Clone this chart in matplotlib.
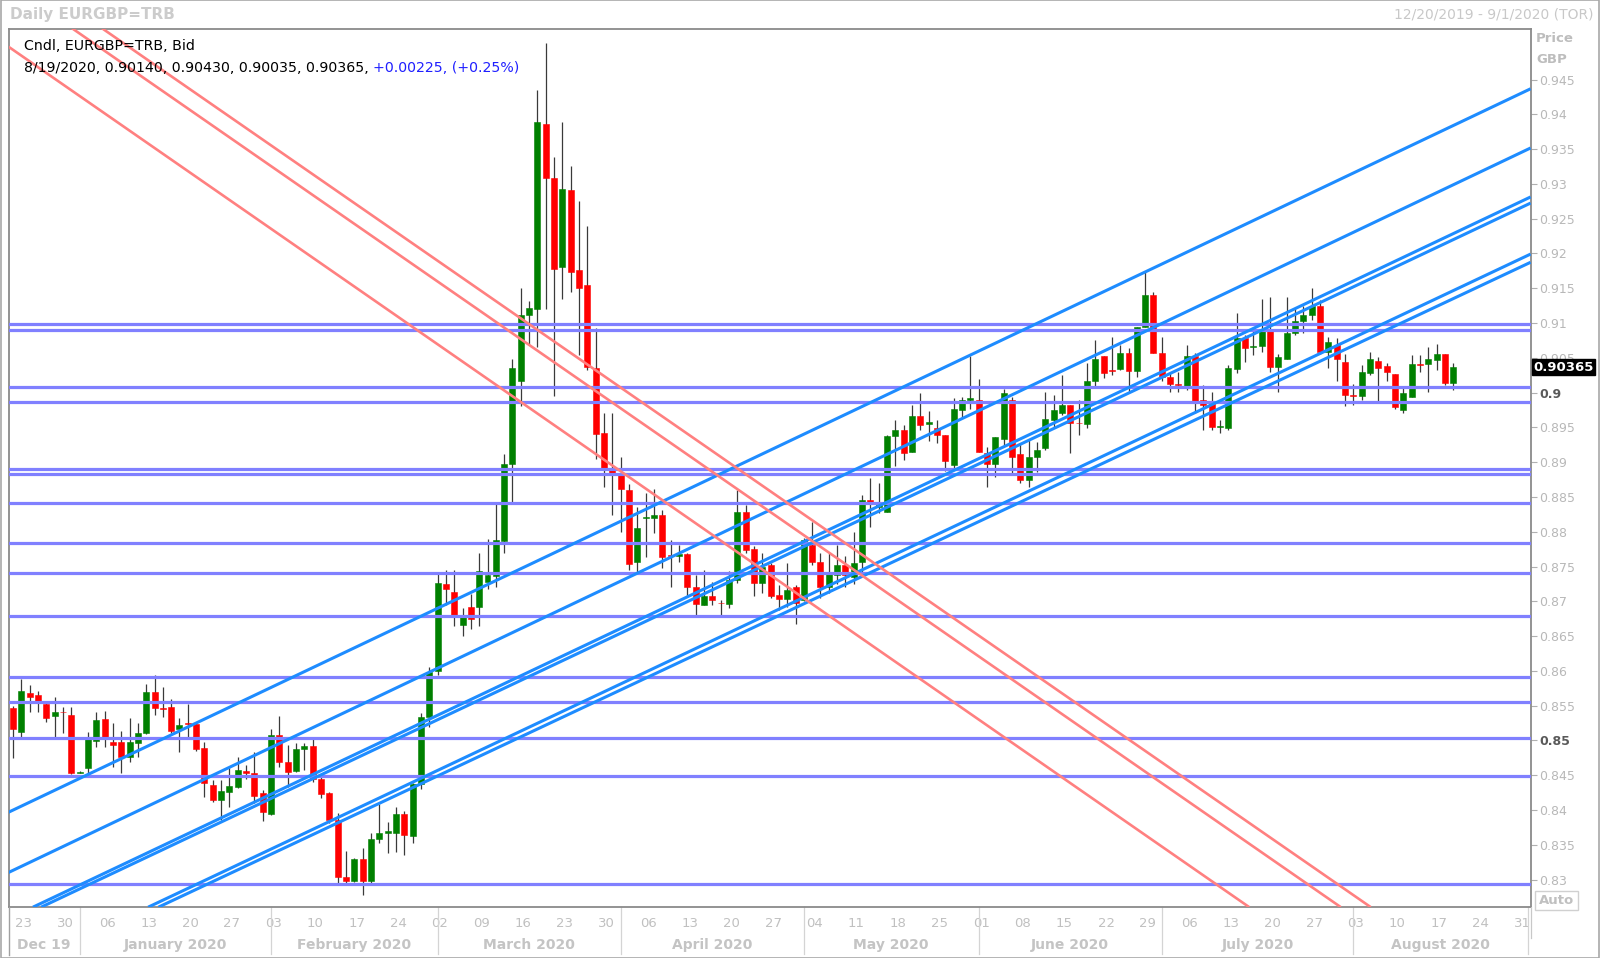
import matplotlib
matplotlib.use("Agg")
import matplotlib.pyplot as plt
import matplotlib.transforms as mtransforms
from matplotlib.patches import Rectangle
import numpy as np
import pandas as pd

# ---------------- data ----------------
dates = pd.bdate_range("2019-12-20", "2020-08-19")
axis_dates = pd.bdate_range("2019-12-20", "2020-09-01")

opens = [0.85462, 0.85117, 0.85678, 0.85654, 0.85524, 0.85352, 0.85410, 0.85366, 0.84535, 0.84600,
         0.84997, 0.85304, 0.84983, 0.84974, 0.84767, 0.84969, 0.85103, 0.85692, 0.85467, 0.85476,
         0.85160, 0.85246, 0.85237, 0.84887, 0.84360, 0.84145, 0.84265, 0.84327, 0.84562, 0.84538,
         0.84240, 0.83944, 0.85079, 0.84696, 0.84562, 0.84873, 0.84921, 0.84442, 0.84240, 0.83857,
         0.83043, 0.82986, 0.83292, 0.82986, 0.83589, 0.83675, 0.83675, 0.83944, 0.83627, 0.84375,
         0.85333, 0.86000, 0.87250, 0.87140, 0.86660, 0.86920, 0.86920, 0.87280, 0.87360, 0.87870,
         0.88970, 0.90170, 0.91120, 0.91200, 0.93860, 0.93080, 0.91810, 0.92910, 0.91760, 0.91540,
         0.90350, 0.89420, 0.88900, 0.88840, 0.88600, 0.87570, 0.88200, 0.88200, 0.88240, 0.87660,
         0.87650, 0.87680, 0.87200, 0.86950, 0.87080, 0.86980, 0.86960, 0.87310, 0.88290, 0.87750,
         0.87270, 0.87520, 0.87090, 0.87030, 0.87210, 0.87020, 0.87810, 0.87570, 0.87200, 0.87380,
         0.87520, 0.87350, 0.87570, 0.88460, 0.88360, 0.88290, 0.89370, 0.89460, 0.89150, 0.89660,
         0.89550, 0.89490, 0.89390, 0.88960, 0.89750, 0.89890, 0.89890, 0.89130, 0.88980, 0.89340,
         0.89900, 0.89120, 0.88740, 0.89080, 0.89200, 0.89610, 0.89700, 0.89820, 0.89570, 0.89550,
         0.90160, 0.90520, 0.90320, 0.90340, 0.90570, 0.90310, 0.90940, 0.91400, 0.90570, 0.90220,
         0.90130, 0.90080, 0.90530, 0.89900, 0.89850, 0.89510, 0.89490, 0.90340, 0.90780, 0.90650,
         0.90670, 0.90880, 0.90370, 0.90490, 0.90850, 0.91030, 0.91120, 0.91240, 0.90590, 0.90680,
         0.90440, 0.89970, 0.89950, 0.90280, 0.90460, 0.90380, 0.90270, 0.89750, 0.89940, 0.90410,
         0.90410, 0.90470, 0.90560, 0.90140]
highs = [0.85496, 0.85884, 0.85797, 0.85716, 0.85558, 0.85630, 0.85486, 0.85486, 0.84560, 0.85127,
         0.85414, 0.85424, 0.85246, 0.85141, 0.85318, 0.85246, 0.85812, 0.85941, 0.85764, 0.85596,
         0.85318, 0.85524, 0.85270, 0.84983, 0.84432, 0.84432, 0.84624, 0.84767, 0.84648, 0.84839,
         0.84288, 0.85160, 0.85352, 0.84935, 0.84959, 0.84959, 0.85017, 0.84504, 0.84265, 0.83953,
         0.83417, 0.83307, 0.83450, 0.83666, 0.84087, 0.83834, 0.84049, 0.83992, 0.84384, 0.85400,
         0.86050, 0.87400, 0.87450, 0.87450, 0.86900, 0.87100, 0.87700, 0.87900, 0.88400, 0.89120,
         0.90490, 0.91510, 0.91310, 0.94350, 0.95030, 0.93390, 0.93890, 0.93260, 0.92760, 0.92390,
         0.90930, 0.89700, 0.89700, 0.89080, 0.88680, 0.88360, 0.88552, 0.88620, 0.88310, 0.87880,
         0.87810, 0.87700, 0.87380, 0.87450, 0.87280, 0.87020, 0.87430, 0.88600, 0.88390, 0.87790,
         0.87690, 0.87550, 0.87230, 0.87550, 0.87240, 0.87910, 0.88140, 0.87700, 0.87700, 0.87810,
         0.87650, 0.88000, 0.88530, 0.88770, 0.88700, 0.89390, 0.89610, 0.89540, 0.89820, 0.90000,
         0.89730, 0.89610, 0.89390, 0.89920, 0.89940, 0.90520, 0.90190, 0.89220, 0.89360, 0.90050,
         0.89940, 0.89270, 0.89340, 0.89290, 0.90010, 0.89970, 0.90250, 0.89820, 0.89900, 0.90420,
         0.90760, 0.90520, 0.90800, 0.90680, 0.90640, 0.90940, 0.91750, 0.91440, 0.90800, 0.90300,
         0.90300, 0.90680, 0.90570, 0.90110, 0.90010, 0.89600, 0.90400, 0.91140, 0.90830, 0.90950,
         0.91350, 0.91380, 0.90560, 0.91380, 0.91210, 0.91240, 0.91500, 0.91330, 0.90800, 0.90780,
         0.90560, 0.90130, 0.90400, 0.90590, 0.90510, 0.90420, 0.90270, 0.90060, 0.90540, 0.90540,
         0.90660, 0.90700, 0.90560, 0.90430]
lows = [0.84744, 0.85055, 0.85414, 0.85414, 0.85270, 0.85055, 0.85103, 0.84520, 0.84525, 0.84528,
        0.84911, 0.84902, 0.84624, 0.84528, 0.84696, 0.84767, 0.85093, 0.85366, 0.85342, 0.85103,
        0.84839, 0.85017, 0.84849, 0.84193, 0.84121, 0.83857, 0.84049, 0.84313, 0.84442, 0.84097,
        0.83848, 0.83930, 0.84624, 0.84336, 0.84550, 0.84576, 0.84408, 0.84169, 0.83809, 0.82923,
        0.82947, 0.82971, 0.82780, 0.82947, 0.83522, 0.83388, 0.83402, 0.83354, 0.83522, 0.84300,
        0.85200, 0.85940, 0.86950, 0.86650, 0.86500, 0.86600, 0.86650, 0.87180, 0.87200, 0.87700,
        0.88400, 0.89810, 0.90690, 0.90660, 0.91200, 0.89950, 0.91350, 0.91440, 0.90540, 0.90320,
        0.89040, 0.88640, 0.88240, 0.88000, 0.87450, 0.87400, 0.87642, 0.87980, 0.87480, 0.87210,
        0.87570, 0.87070, 0.86800, 0.86940, 0.86950, 0.86800, 0.86900, 0.87260, 0.87690, 0.87070,
        0.87120, 0.87050, 0.86880, 0.86920, 0.86680, 0.87000, 0.87520, 0.87050, 0.87120, 0.87250,
        0.87200, 0.87250, 0.87400, 0.88070, 0.88270, 0.88290, 0.88940, 0.89030, 0.89150, 0.89460,
        0.89300, 0.89270, 0.88870, 0.88910, 0.89630, 0.89770, 0.89150, 0.88650, 0.88790, 0.89250,
        0.88840, 0.88700, 0.88650, 0.88860, 0.89180, 0.89490, 0.89680, 0.89130, 0.89390, 0.89490,
        0.90090, 0.90210, 0.90250, 0.90330, 0.90010, 0.90230, 0.90940, 0.90570, 0.90160, 0.90010,
        0.90010, 0.90040, 0.89700, 0.89460, 0.89460, 0.89420, 0.89460, 0.90280, 0.90440, 0.90540,
        0.90590, 0.90300, 0.90010, 0.90490, 0.90830, 0.90850, 0.91040, 0.90560, 0.90350, 0.90160,
        0.89810, 0.89820, 0.89890, 0.90250, 0.89880, 0.90160, 0.89760, 0.89710, 0.89940, 0.90300,
        0.90010, 0.90330, 0.90110, 0.90035]
closes = [0.85160, 0.85711, 0.85620, 0.85567, 0.85318, 0.85414, 0.85405, 0.84528, 0.84548, 0.85017,
          0.85294, 0.85017, 0.84935, 0.84758, 0.84983, 0.85103, 0.85692, 0.85462, 0.85448, 0.85141,
          0.85223, 0.85237, 0.84873, 0.84384, 0.84145, 0.84274, 0.84351, 0.84576, 0.84538, 0.84202,
          0.83977, 0.85079, 0.84696, 0.84552, 0.84873, 0.84921, 0.84442, 0.84231, 0.83857, 0.83043,
          0.82986, 0.83292, 0.82986, 0.83589, 0.83675, 0.83704, 0.83944, 0.83642, 0.84375, 0.85333,
          0.85990, 0.87270, 0.87170, 0.86770, 0.86780, 0.86740, 0.87430, 0.87380, 0.87880, 0.88980,
          0.90360, 0.91120, 0.91210, 0.93890, 0.93090, 0.91780, 0.92920, 0.91730, 0.91500, 0.90370,
          0.89410, 0.88920, 0.88850, 0.88620, 0.87540, 0.88050, 0.88210, 0.88240, 0.87640, 0.87650,
          0.87680, 0.87200, 0.86960, 0.87080, 0.87020, 0.86970, 0.87310, 0.88290, 0.87740, 0.87270,
          0.87500, 0.87080, 0.87030, 0.87160, 0.86970, 0.87880, 0.87570, 0.87200, 0.87400, 0.87520,
          0.87380, 0.87550, 0.88460, 0.88410, 0.88430, 0.89370, 0.89460, 0.89130, 0.89660, 0.89530,
          0.89580, 0.89390, 0.89010, 0.89770, 0.89890, 0.89920, 0.89150, 0.88980, 0.89360, 0.90000,
          0.89080, 0.88750, 0.89070, 0.89180, 0.89620, 0.89750, 0.89820, 0.89570, 0.89560, 0.90160,
          0.90490, 0.90280, 0.90310, 0.90570, 0.90310, 0.90940, 0.91400, 0.90570, 0.90230, 0.90130,
          0.90110, 0.90530, 0.89870, 0.89820, 0.89510, 0.89520, 0.90350, 0.90780, 0.90640, 0.90670,
          0.90880, 0.90370, 0.90510, 0.90850, 0.91030, 0.91120, 0.91240, 0.90590, 0.90730, 0.90480,
          0.89970, 0.89950, 0.90290, 0.90480, 0.90360, 0.90300, 0.89790, 0.89990, 0.90410, 0.90400,
          0.90490, 0.90550, 0.90140, 0.90365]

# horizontal support / resistance levels
levels = [0.90993, 0.90905, 0.90084, 0.89864, 0.88896, 0.88823, 0.88412, 0.87840,
          0.87400, 0.86784, 0.85919, 0.85552, 0.85039, 0.84496, 0.82941]

# trend lines as (start bar index, start price) -> (end bar index, end price)
blue_x0 = [-0.54, -0.54, 2.40, 3.38, 16.24, 17.47]
blue_p0 = [0.83968, 0.83102, 0.82604, 0.82604, 0.82604, 0.82604]
blue_x1 = [182.3, 182.3, 182.3, 182.3, 182.3, 182.3]
blue_p1 = [0.94367, 0.93516, 0.92812, 0.92724, 0.91991, 0.91873]
red_x0 = [-0.53, 7.10, 10.70]
red_p0 = [0.94971, 0.95236, 0.95236]
red_x1 = [148.5, 159.5, 163.1]
red_p1 = [0.82604, 0.82604, 0.82604]

yticks = [round(0.83 + 0.005 * k, 3) for k in range(24)]
header_title = "Daily EURGBP=TRB"
header_range = "12/20/2019 - 9/1/2020 (TOR)"
legend_line1 = "Cndl, EURGBP=TRB, Bid"
legend_line2 = "8/19/2020, 0.90140, 0.90430, 0.90035, 0.90365, "
legend_change = "+0.00225, (+0.25%)"
last_price_label = "0.90365"

# ---------------- figure ----------------
W, H = 1600, 958
fig = plt.figure(figsize=(W / 100, H / 100), dpi=100)
fig.patch.set_facecolor("white")

def fx(px):
    return px / W

def fy(py):
    return 1 - py / H

ax_left, ax_right, ax_top, ax_bot = 8.5, 1531, 28.6, 907
ax = fig.add_axes([fx(ax_left), fy(ax_bot), fx(ax_right - ax_left), (ax_bot - ax_top) / H])
ax.set_facecolor("white")

idx = np.arange(len(dates))
o = np.array(opens); h = np.array(highs); l = np.array(lows); c = np.array(closes)
up = c >= o
col = np.where(up, "#008000", "#ff0000")

ax.vlines(idx, l, h, color="#3a3a3a", lw=0.9, zorder=2)
bottoms = np.minimum(o, c)
heights = np.maximum(np.abs(c - o), 0.00007)
ax.bar(idx, heights, bottom=bottoms, width=0.72, color=col, edgecolor=col, lw=0.4, zorder=2.2)

for v in levels:
    ax.axhline(v, color="#8080ff", lw=2.3, zorder=3)
for x0, p0, x1, p1 in zip(blue_x0, blue_p0, blue_x1, blue_p1):
    ax.plot([x0, x1], [p0, p1], color="#1e8cff", lw=2.2, zorder=4, solid_capstyle="butt")
for x0, p0, x1, p1 in zip(red_x0, red_p0, red_x1, red_p1):
    ax.plot([x0, x1], [p0, p1], color="#ff8080", lw=1.9, zorder=4, solid_capstyle="butt")

ax.set_xlim(-0.54, 182.35)
ax.set_ylim(0.82606, 0.95232)

for s in ax.spines.values():
    s.set_color("#8a8a8a")
    s.set_linewidth(1.3)

# y axis on the right
ax.yaxis.tick_right()
ax.set_yticks(yticks)
ax.set_yticklabels([("%.3f" % v).rstrip("0") for v in yticks])
ax.tick_params(axis="y", direction="out", length=4, width=0.8, color="#b0b0b0",
               labelcolor="#b8b8b8", labelsize=9, pad=2)
for t, v in zip(ax.get_yticklabels(), yticks):
    if abs(v - 0.85) < 1e-9 or abs(v - 0.9) < 1e-9:
        t.set_fontweight("bold")
        t.set_color("#5a5a5a")

# x axis: weekly day numbers (Mondays)
mondays = [i for i, d in enumerate(axis_dates) if d.weekday() == 0]
ax.set_xticks([i + 0.3 for i in mondays])
ax.set_xticklabels(["%02d" % axis_dates[i].day for i in mondays])
ax.tick_params(axis="x", length=0, labelcolor="#c0c0c0", labelsize=9.5, pad=7)

# months (the single September day at the right edge gets no label)
trans = mtransforms.blended_transform_factory(ax.transData, ax.transAxes)
month_first = []
prev = None
for i, d in enumerate(axis_dates):
    key = (d.year, d.month)
    if key != prev:
        month_first.append(i)
        prev = key
bounds = month_first[1:] + [len(axis_dates) - 1]
ymonth = -(945 - ax_bot) / (ax_bot - ax_top)
for k, i0 in enumerate(month_first):
    d = axis_dates[i0]
    end = bounds[k]
    if k > 0:
        ax.plot([i0, i0], [0, -(H - 4 - ax_bot) / (ax_bot - ax_top)], transform=trans,
                color="#d4d4d4", lw=0.9, clip_on=False)
    if end - i0 < 3:
        continue
    label = "Dec 19" if (d.year == 2019) else d.strftime("%B %Y")
    start = -0.54 if k == 0 else i0
    ax.text((start + end) / 2, ymonth, label, transform=trans, ha="center", va="center",
            fontsize=10, fontweight="bold", color="#c4c4c4", clip_on=False)

# left frame line continued to the bottom
fig.add_artist(plt.Line2D([fx(ax_left), fx(ax_left)], [fy(ax_bot), fy(H - 3)], color="#a0a0a0", lw=1.0))
fig.add_artist(plt.Line2D([fx(ax_right), fx(ax_right)], [fy(ax_bot), fy(938)], color="#c8c8c8", lw=0.9))

# last price tag
tr2 = mtransforms.blended_transform_factory(ax.transAxes, ax.transData)
ax.text(1.0015, closes[-1], last_price_label, transform=tr2, ha="left", va="center",
        fontsize=9.5, fontweight="bold", color="white", zorder=10, clip_on=False,
        bbox=dict(boxstyle="square,pad=0.12", facecolor="black", edgecolor="black"))

# right-axis header and Auto button
fig.text(fx(1536), fy(38), "Price", fontsize=9.5, fontweight="bold", color="#bdbdbd", va="center")
fig.text(fx(1536), fy(59.5), "GBP", fontsize=9.5, fontweight="bold", color="#bdbdbd", va="center")
fig.patches.append(Rectangle((fx(1535), fy(910)), fx(43), 19 / H, transform=fig.transFigure,
                             facecolor="white", edgecolor="#d0d0d0", lw=1))
fig.text(fx(1556.5), fy(900.5), "Auto", fontsize=9.5, fontweight="bold", color="#c0c0c0",
         ha="center", va="center")

# header
fig.text(fx(10), fy(15), header_title, fontsize=11, fontweight="bold", color="#cccccc", va="center")
fig.text(fx(1594), fy(15), header_range, fontsize=10, color="#c8c8c8", va="center", ha="right")

# legend text inside the plot
fig.text(fx(23.5), fy(46.5), legend_line1, fontsize=10.2, color="black", va="center", zorder=20)
t2 = fig.text(fx(23.5), fy(68), legend_line2, fontsize=10.2, color="black", va="center", zorder=20)
fig.canvas.draw()
bb = t2.get_window_extent(renderer=fig.canvas.get_renderer())
fig.text(bb.x1 / W, fy(68), legend_change, fontsize=10.2, color="#2020ff", va="center", zorder=20)

# outer border
fig.patches.append(Rectangle((0.0005, 0.0005), 0.999, 0.999, transform=fig.transFigure,
                             fill=False, edgecolor="#a8a8a8", lw=1.2))

fig.savefig("out.png", dpi=100)
